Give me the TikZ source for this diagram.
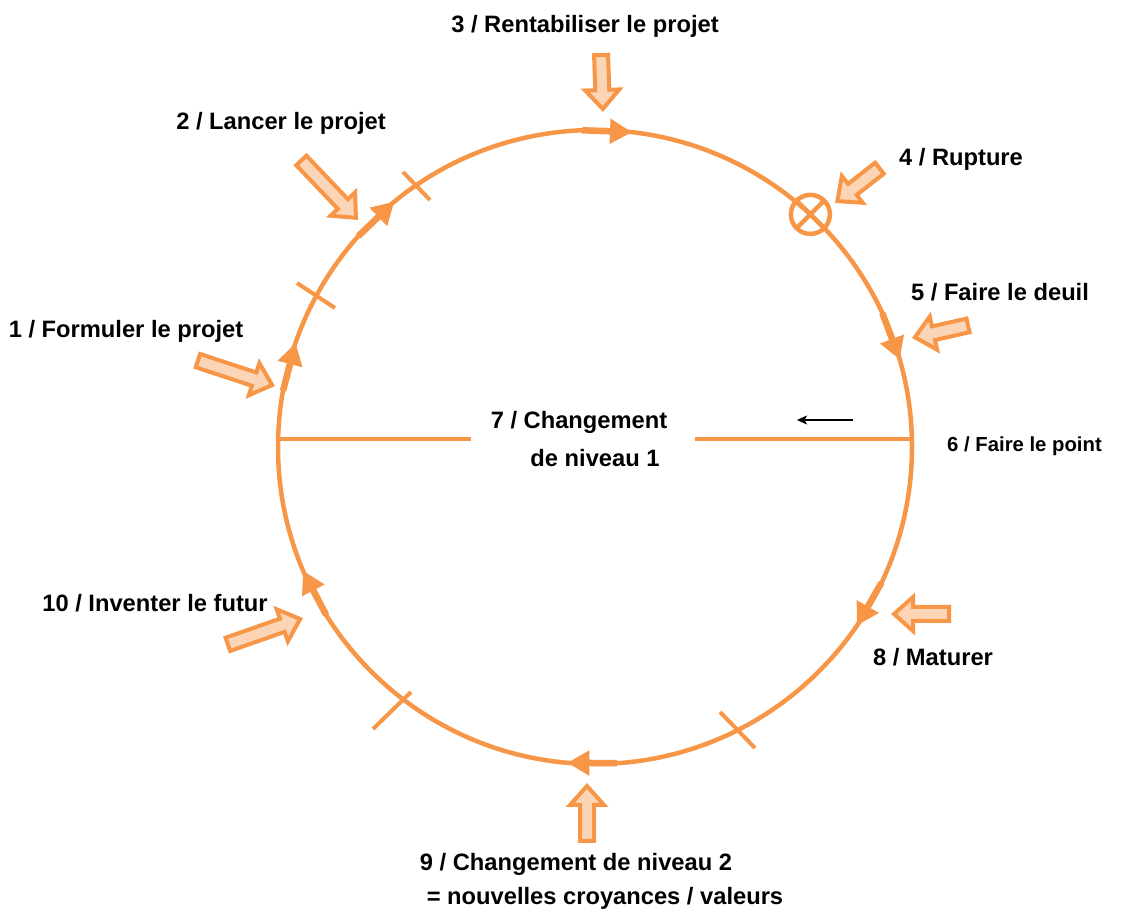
\documentclass[tikz,border=0pt]{standalone}
\usepackage{fontspec}
\setmainfont{Liberation Sans}
\usetikzlibrary{arrows.meta,calc}
\definecolor{ring}{HTML}{F79646}
\definecolor{peach}{HTML}{FBD5B5}

% block arrow: tail at the origin, tip at (#1,0)
\tikzset{pics/barrow/.style={code={
  \draw[ring, line width=4pt, fill=peach, line join=miter, miter limit=10]
    (2,-7) -- ({#1-22},-7) -- ({#1-22},-17) -- ({#1-3},0)
    -- ({#1-22},17) -- ({#1-22},7) -- (2,7) -- cycle;
}}}
\newcommand\blockarrow[2]{%
  \path let \p1=($(#2)-(#1)$), \n1={atan2(\y1,\x1)}, \n2={veclen(\x1,\y1)}
    in (#1) pic[rotate=\n1] {barrow=\n2};}
% arrow head placed on the ring, pointing clockwise, tip at angle #1
\newcommand\ringarrow[1]{%
  \draw[ring, line width=6.5pt, -{Triangle[length=22pt,width=24pt]}]
    ($(c)+({#1+9}:317)$) -- ($(c)+(#1:317)$);}

\begin{document}
\begin{tikzpicture}[x=1pt,y=1pt,
  lbl/.style={font=\bfseries\fontsize{23.7}{28}\selectfont, inner sep=0pt, anchor=base},
  lblsm/.style={font=\bfseries\fontsize{20.3}{24}\selectfont, inner sep=0pt, anchor=base},
  stagemark/.style={ring, line width=4pt}]
\useasboundingbox (0,0) rectangle (1136,911);

\coordinate (c) at (595,464);
\draw[ring, line width=4.5pt] (c) circle (317);

% diameter split by the central label
\coordinate (dl) at (278.1,472);
\coordinate (dr) at (911.9,472);
\coordinate (ml) at (471,472);
\coordinate (mr) at (695,472);
\draw[ring, line width=4pt] (dl) -- (ml);
\draw[ring, line width=4pt] (mr) -- (dr);

% direction arrows along the ring
\ringarrow{83.3}
\ringarrow{129.3}
\ringarrow{160.8}
\ringarrow{16}
\ringarrow{-34.3}
\ringarrow{-95}
\ringarrow{203}

% stage marks across the ring
\coordinate (k1a) at (297,628); \coordinate (k1b) at (335,603);
\coordinate (k2a) at (403,739); \coordinate (k2b) at (430,711);
\coordinate (k3a) at (373,182); \coordinate (k3b) at (411,219);
\coordinate (k4a) at (720,199); \coordinate (k4b) at (755,163);
\draw[stagemark] (k1a) -- (k1b);
\draw[stagemark] (k2a) -- (k2b);
\draw[stagemark] (k3a) -- (k3b);
\draw[stagemark] (k4a) -- (k4b);

% rupture symbol
\coordinate (rp) at ($(c)+(47.2:317)$);
\draw[ring, line width=4.5pt] (rp) circle (19.5);
\draw[ring, line width=4.5pt] ($(rp)+(45:19.5)$) -- ($(rp)+(225:19.5)$);
\draw[ring, line width=4.5pt] ($(rp)+(135:19.5)$) -- ($(rp)+(-45:19.5)$);

% small black arrow
\coordinate (ba) at (853,491);
\coordinate (bb) at (797,491);
\draw[line width=1.4pt, -{Stealth[length=10pt,width=9pt,inset=2.5pt]}] (ba) -- (bb);

% block arrows pointing at the stages
\coordinate (a3s) at (601,858); \coordinate (a3e) at (603,799);
\coordinate (a4s) at (881,744); \coordinate (a4e) at (835,708);
\coordinate (a2s) at (300,752); \coordinate (a2e) at (358,691);
\coordinate (a1s) at (196,551); \coordinate (a1e) at (275,525);
\coordinate (a5s) at (970,586); \coordinate (a5e) at (912,573);
\coordinate (a8s) at (951,297); \coordinate (a8e) at (891,297);
\coordinate (a9s) at (587,68);  \coordinate (a9e) at (587,128);
\coordinate (a10s) at (226,266); \coordinate (a10e) at (303,293);
\blockarrow{a3s}{a3e}
\blockarrow{a4s}{a4e}
\blockarrow{a2s}{a2e}
\blockarrow{a1s}{a1e}
\blockarrow{a5s}{a5e}
\blockarrow{a8s}{a8e}
\blockarrow{a9s}{a9e}
\blockarrow{a10s}{a10e}

% labels
\node[lbl] (t3) at (585,878) {3 / Rentabiliser le projet};
\node[lbl] (t2) at (281,781) {2 / Lancer le projet};
\node[lbl] (t4) at (961,745) {4 / Rupture};
\node[lbl] (t1) at (126,573) {1 / Formuler le projet};
\node[lbl] (t5) at (1000,610) {5 / Faire le deuil};
\node[lbl] (t7a) at (579,482) {7 / Changement};
\node[lbl] (t7b) at (595,444) {de niveau 1};
\node[lblsm] (t6) at (1024.5,459) {6 / Faire le point};
\node[lbl] (t10) at (155,299) {10 / Inventer le futur};
\node[lbl] (t8) at (933,245) {8 / Maturer};
\node[lbl] (t9a) at (576,41) {9 / Changement de niveau 2};
\node[lbl] (t9b) at (605,6) {= nouvelles croyances / valeurs};
\end{tikzpicture}
\end{document}
